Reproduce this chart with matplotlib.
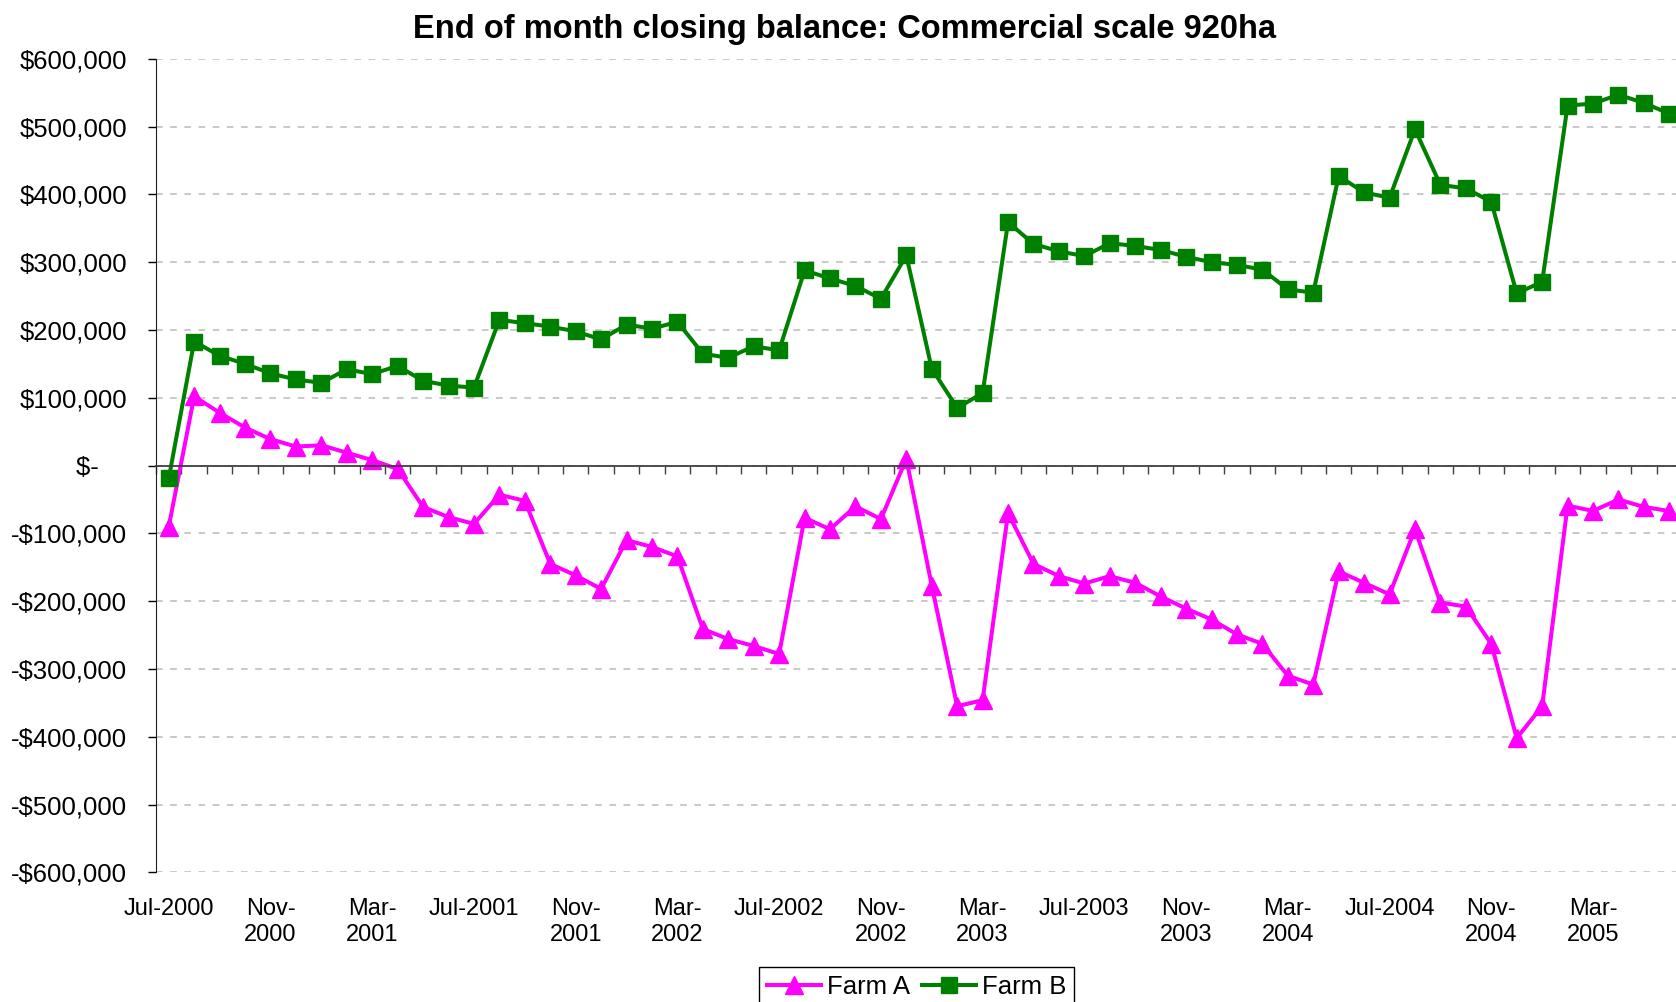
import numpy as np
import matplotlib
matplotlib.use('Agg')
import matplotlib.pyplot as plt
from matplotlib.ticker import MultipleLocator, FuncFormatter

plt.rcParams['font.family'] = ['Liberation Sans', 'DejaVu Sans']

# Monthly closing balance, Jul-2000 .. Jun-2005
farm_a = [-90000, 102000, 78000, 56000, 39000, 28000, 30000, 19000, 8000, -5000,
          -61000, -76000, -86000, -43000, -52000, -145000, -162000, -182000, -110000, -120000,
          -134000, -241000, -256000, -266000, -278000, -77000, -94000, -60000, -79000, 10000,
          -177000, -355000, -346000, -70000, -145000, -163000, -174000, -163000, -173000, -193000,
          -211000, -227000, -249000, -263000, -310000, -323000, -156000, -173000, -190000, -94000,
          -202000, -208000, -263000, -402000, -355000, -59000, -67000, -50000, -61000, -67000]

farm_b = [-19000, 183000, 162000, 150000, 136000, 127000, 122000, 142000, 135000, 147000,
          125000, 118000, 115000, 215000, 210000, 205000, 198000, 186000, 208000, 202000,
          212000, 165000, 159000, 176000, 170000, 288000, 276000, 265000, 246000, 310000,
          143000, 85000, 107000, 359000, 327000, 316000, 309000, 328000, 324000, 318000,
          308000, 300000, 296000, 289000, 260000, 255000, 427000, 403000, 395000, 496000,
          414000, 409000, 389000, 254000, 271000, 531000, 534000, 547000, 535000, 519000]

tick_labels = ['Jul-2000', 'Nov-\n2000', 'Mar-\n2001', 'Jul-2001', 'Nov-\n2001',
               'Mar-\n2002', 'Jul-2002', 'Nov-\n2002', 'Mar-\n2003', 'Jul-2003',
               'Nov-\n2003', 'Mar-\n2004', 'Jul-2004', 'Nov-\n2004', 'Mar-\n2005']

fig = plt.figure(figsize=(16.76, 10.02), dpi=100)
ax = fig.add_axes([0.0931, 0.1294, 0.9105, 0.8119])

x = np.arange(len(farm_a))
ax.plot(x, farm_a, color='#FF00FF', lw=2.9, marker='^', ms=13, mew=1,
        label='Farm A')
ax.plot(x, farm_b, color='#008000', lw=2.9, marker='s', ms=11, mew=1,
        label='Farm B')

ax.set_xlim(-0.5, len(farm_a) - 0.5)
ax.set_ylim(-600000, 600000)


def money(v, pos):
    if v == 0:
        return '$-    '
    s = f'${abs(v):,.0f}'
    return '-' + s if v < 0 else s


ax.yaxis.set_major_locator(MultipleLocator(100000))
ax.yaxis.set_major_formatter(FuncFormatter(money))
ax.tick_params(axis='y', length=6, width=1, direction='out', labelsize=18.5, pad=15)
ax.grid(axis='y', ls=(0, (4, 4.5)), color='#C0C0C0', lw=1.2)
ax.set_axisbelow(True)

# category axis crosses at zero, ticks at category boundaries
ax.spines['top'].set_visible(False)
ax.spines['right'].set_visible(False)
ax.spines['bottom'].set_position(('data', 0))
ax.spines['bottom'].set_color('#404040')
ax.spines['bottom'].set_linewidth(1.3)
ax.spines['left'].set_color('#202020')
ax.set_xticks(np.arange(-0.5, len(farm_a), 1))
ax.set_xticklabels([])
ax.tick_params(axis='x', length=6, width=1, direction='out', color='#404040')

for i, lab in enumerate(tick_labels):
    ax.text(i * 4, -0.031, lab, transform=ax.get_xaxis_transform(),
            ha='center', va='top', fontsize=17, linespacing=1.28)

fig.text(0.504, 0.971, 'End of month closing balance: Commercial scale 920ha',
         ha='center', va='center', fontsize=23.5, fontweight='bold')

leg = fig.legend(loc='upper center', bbox_to_anchor=(0.547, 0.0345), ncol=2,
                 fontsize=18.5, handlelength=2.1, handletextpad=0.25,
                 columnspacing=0.45, borderpad=0.3, borderaxespad=0,
                 fancybox=False, framealpha=1, edgecolor='black')
leg.get_frame().set_linewidth(1)

plt.savefig('out.png', dpi=100)
